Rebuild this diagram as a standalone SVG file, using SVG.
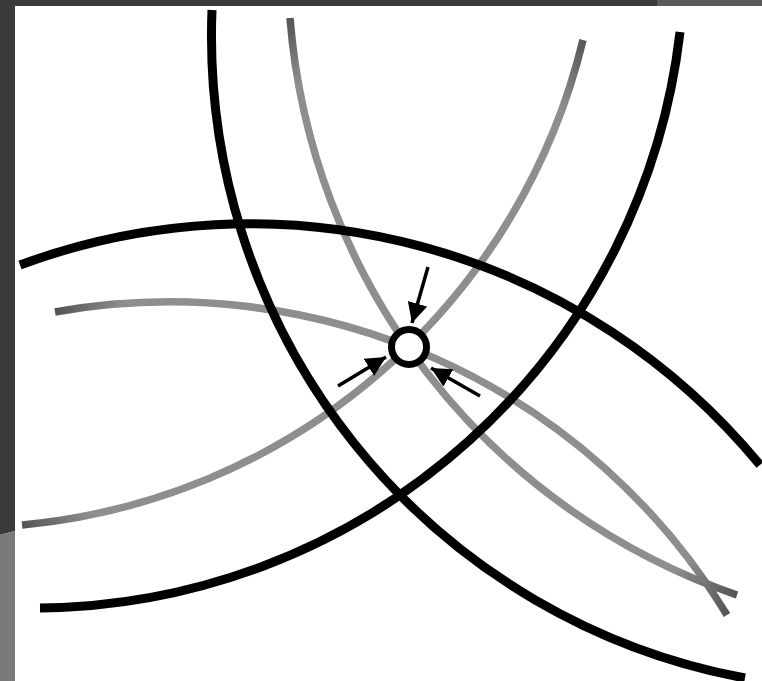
<svg xmlns="http://www.w3.org/2000/svg" width="762" height="681" viewBox="0 0 762 681">
<style>
.blk{fill:none;stroke:#000;stroke-width:9;stroke-linecap:butt}
.gry{fill:none;stroke-width:7.5;stroke-linecap:butt}
.arr{fill:none;stroke:#000;stroke-width:3.5;marker-end:url(#ah)}
</style>
<defs>
<marker id="ah" markerUnits="userSpaceOnUse" markerWidth="24" markerHeight="22" refX="20" refY="10" orient="auto">
<path d="M0,0 L20,10 L0,20 Z" fill="#000"/>
</marker>
<linearGradient id="gD" gradientUnits="userSpaceOnUse" x1="290" y1="18" x2="737" y2="595">
<stop offset="0" stop-color="#555"/><stop offset="0.08" stop-color="#8e8e8e"/><stop offset="0.92" stop-color="#8e8e8e"/><stop offset="1" stop-color="#555"/>
</linearGradient>
<linearGradient id="gE" gradientUnits="userSpaceOnUse" x1="55" y1="312" x2="727" y2="615">
<stop offset="0" stop-color="#555"/><stop offset="0.08" stop-color="#8e8e8e"/><stop offset="0.92" stop-color="#8e8e8e"/><stop offset="1" stop-color="#555"/>
</linearGradient>
<linearGradient id="gF" gradientUnits="userSpaceOnUse" x1="583" y1="40" x2="22" y2="525">
<stop offset="0" stop-color="#555"/><stop offset="0.08" stop-color="#8e8e8e"/><stop offset="0.92" stop-color="#8e8e8e"/><stop offset="1" stop-color="#555"/>
</linearGradient>
</defs>
<rect width="762" height="681" fill="#fff"/>
<polygon points="0,0 15,0 15,531 0,535" fill="#3a3a3a"/>
<polygon points="0,535 15,531 15,681 0,681" fill="#7a7a7a"/>
<rect x="0" y="0" width="657" height="6" fill="#3a3a3a"/>
<rect x="657" y="0" width="105" height="6" fill="#5a5a5a"/>
<g id="connectors">
<path id="grayD" class="gry" stroke="url(#gD)" d="M290,18 A665.5,665.5 0 0 0 737,595"/>
<path id="grayE" class="gry" stroke="url(#gE)" d="M55,312 A652.8,652.8 0 0 1 727,615"/>
<path id="grayF" class="gry" stroke="url(#gF)" d="M583,40 A637.6,637.6 0 0 1 22,525"/>
<path id="blackA" class="blk" d="M212,10 A653,653 0 0 0 745,678"/>
<path id="blackB" class="blk" d="M680,32 A651,651 0 0 1 40,608"/>
<path id="blackC" class="blk" d="M20,265 A660.4,660.4 0 0 1 760,465"/>
<line class="arr" x1="428" y1="267" x2="412" y2="323"/>
<line class="arr" x1="338" y1="386" x2="386" y2="357"/>
<line class="arr" x1="480" y1="396" x2="431" y2="368"/>
</g>
<g id="target">
<circle cx="409" cy="347" r="17.5" fill="#fff" stroke="#000" stroke-width="7"/>
</g>
</svg>
